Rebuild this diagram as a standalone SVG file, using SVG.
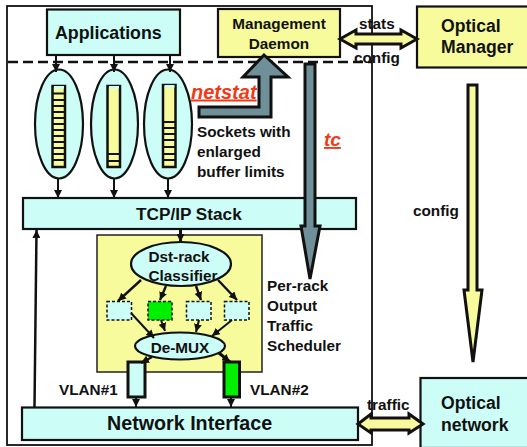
<svg xmlns="http://www.w3.org/2000/svg" width="527" height="447" viewBox="0 0 527 447">
<style>
text{font-family:"Liberation Sans",Arial,sans-serif;font-weight:bold;fill:#111}
.s{font-size:15.300px}
.c{fill:#ccfdf7;stroke:#111;stroke-width:2.200}
.y{fill:#f7fb9b;stroke:#111;stroke-width:2.200}
.buf{fill:#f7fb9b;stroke:#111;stroke-width:2.500}
.cap{fill:#ccfdf7}
.dash{fill:#ccfdf7;stroke:#111;stroke-width:1.500;stroke-dasharray:3 2}
.gray{fill:#6f8f99;stroke:#111;stroke-width:3}
.ya{fill:#f7fb9b;stroke:#111;stroke-width:3}
.ln{fill:none;stroke:#111;stroke-width:2;marker-end:url(#a)}
.rung{stroke:#111;stroke-width:2}
.red{fill:#f03a17;font-style:italic;text-decoration:underline}
</style>
<defs>
<marker id="a" markerUnits="userSpaceOnUse" markerWidth="9" markerHeight="8" refX="8" refY="4" orient="auto"><path d="M0 0L8 4L0 8Z" fill="#111"/></marker>
</defs>
<rect width="527" height="447" fill="#fff"/>
<rect id="host" x="7" y="6" width="365" height="439" fill="none" stroke="#111" stroke-width="1.800"/>
<g id="applications"><rect class="c" x="47" y="9.500" width="133" height="45.500"/><text x="55" y="39" font-size="17.800">Applications</text></g>
<g id="daemon"><rect class="y" x="218" y="9" width="122" height="48"/><text x="279" y="29" class="s" text-anchor="middle">Management</text><text x="279" y="49" class="s" text-anchor="middle">Daemon</text></g>
<line id="boundary" x1="8" y1="62" x2="372" y2="62" stroke="#111" stroke-width="2.500" stroke-dasharray="10 5"/>
<g id="manager"><rect class="y" x="417" y="6.500" width="112" height="61"/><text x="441" y="32" font-size="17.600">Optical</text><text x="441" y="53" font-size="17.600">Manager</text></g>
<g id="network"><rect class="c" x="420.500" y="378" width="108" height="70"/><text x="441" y="409" font-size="17.600">Optical</text><text x="441" y="431" font-size="17.600">network</text></g>
<g id="socket1"><ellipse class="c" cx="59" cy="124" rx="24" ry="54.500"/><rect class="buf" x="52.500" y="86" width="12.500" height="81"/><rect class="cap" x="54" y="86" width="10" height="2.500"/><path class="rung" d="M52 93.500H65M52 100H65M52 106H65M52 112H65M52 118H65M52 124H65M52 130H65M52 136H65M52 142H65M52 148H65M52 154H65M52 160H65"/></g>
<g id="socket2"><ellipse class="c" cx="114.500" cy="124" rx="23.500" ry="54.500"/><rect class="buf" x="107.500" y="86" width="12.500" height="81"/><rect class="cap" x="109" y="86" width="10" height="2.500"/><path class="rung" d="M107 154H120M107 161H120"/></g>
<g id="socket3"><ellipse class="c" cx="168" cy="124" rx="24" ry="54.500"/><rect class="buf" x="163" y="85" width="12.500" height="82"/><rect class="cap" x="164.500" y="85" width="10" height="2.500"/><path class="rung" d="M163 122H175M163 128H175M163 134H175M163 140H175M163 147H175M163 154H175M163 160H175"/></g>
<g id="tcpip"><rect class="c" x="23" y="198" width="333" height="31"/><text x="136" y="220" font-size="17.200">TCP/IP Stack</text></g>
<g id="scheduler"><rect x="97" y="235" width="165" height="137" fill="#f7fb9b" stroke="#222" stroke-width="1.500"/></g>
<g id="classifier"><ellipse class="c" cx="181" cy="264" rx="50" ry="22"/><text x="179" y="262" class="s" text-anchor="middle">Dst-rack</text><text x="183" y="281" class="s" text-anchor="middle">Classifier</text></g>
<g id="q1"><rect class="dash" x="107" y="301.500" width="24.500" height="18.500"/></g>
<g id="q2"><rect x="148" y="301.500" width="24" height="18.500" fill="#00f000" stroke="#111" stroke-width="1.500" stroke-dasharray="3 2"/></g>
<g id="q3"><rect class="dash" x="186.500" y="301.500" width="24.500" height="18.500"/></g>
<g id="q4"><rect class="dash" x="224.500" y="301.500" width="24.500" height="18.500"/></g>
<g id="demux"><ellipse class="c" cx="180" cy="346" rx="45" ry="13.500"/><text x="180" y="353" class="s" text-anchor="middle">De-MUX</text></g>
<g id="vlan1"><rect x="128" y="362" width="17" height="35" fill="#ccfdf7" stroke="#111" stroke-width="3"/><text x="59" y="395" class="s">VLAN#1</text></g>
<g id="vlan2"><rect x="224" y="362" width="15.500" height="35" fill="#00f000" stroke="#111" stroke-width="3"/><text x="250" y="395" class="s">VLAN#2</text></g>
<g id="nic"><rect class="c" x="22" y="407.500" width="336" height="32.500"/><text x="107" y="430" font-size="19.700">Network Interface</text></g>
<g id="connectors">
<path class="ln" d="M56 55V72"/><path class="ln" d="M114 55V72"/><path class="ln" d="M170 55V72"/>
<path class="ln" d="M58 179V198"/><path class="ln" d="M114 179V198"/><path class="ln" d="M168 179V198"/>
<path class="ln" d="M180.500 229V242" style="stroke-width:3"/>
<path class="ln" d="M34.500 407L36.500 230" style="stroke-width:2.500"/>
<path class="ln" d="M141 280L118 301" style="stroke-width:2.400"/>
<path class="ln" d="M166 286L160 300" style="stroke-width:2.400"/>
<path class="ln" d="M196 286L201 300" style="stroke-width:2.400"/>
<path class="ln" d="M218 280L237 300" style="stroke-width:2.400"/>
<path class="ln" d="M131 313L154 338"/>
<path class="ln" d="M161 320L165 331"/>
<path class="ln" d="M199 320L196 332"/>
<path class="ln" d="M232 320L212 336"/>
<path class="ln" d="M152 357L141 363" style="stroke-width:2.400"/>
<path class="ln" d="M219 353L230 362" style="stroke-width:3"/>
<path class="ln" d="M136 397V407"/><path class="ln" d="M231 397V407"/>
<polygon id="netstat-arrow" class="gray" points="199,107 259,107 259,77 243,77 264,55 288,77 271,77 271,117 199,117"/>
<polygon id="tc-arrow" class="gray" points="305,64 315,64 315,226 320,226 310,279 301,226 305,226"/>
<polygon id="stats-arrow" class="ya" points="340,39 356,30 356,34 401,34 401,30 417,39 401,48 401,44 356,44 356,48"/>
<polygon id="config-arrow" class="ya" points="468,85 477,85 477,290 482,290 473,362 464,290 468,290"/>
<polygon id="traffic-arrow" class="ya" points="358,424 371,414 371,418 409,418 409,414 423,424 409,433 409,430 371,430 371,433"/>
</g>
<text class="red" x="191" y="98.500" font-size="20">netstat</text>
<text class="red" x="324" y="146" font-size="19">tc</text>
<text x="197" y="137" class="s">Sockets with</text>
<text x="197" y="157" class="s">enlarged</text>
<text x="197" y="177" class="s">buffer limits</text>
<text x="359" y="29" class="s">stats</text>
<text x="354" y="63" class="s">config</text>
<text x="413" y="216" class="s">config</text>
<text x="267" y="291" class="s">Per-rack</text>
<text x="267" y="311" class="s">Output</text>
<text x="267" y="331" class="s">Traffic</text>
<text x="267" y="351" class="s">Scheduler</text>
<text x="367" y="410" class="s">traffic</text>
</svg>
